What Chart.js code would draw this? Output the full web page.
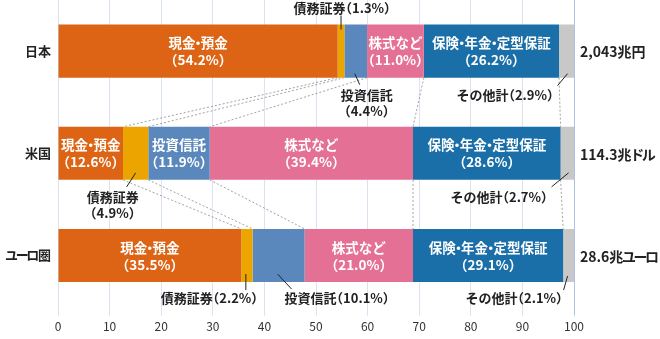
<!DOCTYPE html>
<html>
<head>
<meta charset="utf-8">
<script src="https://cdn.jsdelivr.net/npm/chart.js@4"></script>
<style>
  html, body { margin: 0; padding: 0; background: #fff; }
  #wrap { width: 660px; height: 339px; position: relative; }
</style>
</head>
<body>
<div id="wrap"><canvas id="c"></canvas></div>
<script>
// 家計金融資産の構成 — 日本・米国・ユーロ圏 (100% stacked)
const countries = ["日本", "米国", "ユーロ圏"];
const totals = ["2,043兆円", "114.3兆ドル", "28.6兆ユーロ"];

const segNames = ["現金・預金", "債務証券", "投資信託", "株式など", "保険・年金・定型保証", "その他計"];
const cash      = [54.2, 12.6, 35.5];
const debt      = [1.3, 4.9, 2.2];
const funds     = [4.4, 11.9, 10.1];
const equity    = [11.0, 39.4, 21.0];
const insurance = [26.2, 28.6, 29.1];
const other     = [2.9, 2.7, 2.1];

const xTicks = [0, 10, 20, 30, 40, 50, 60, 70, 80, 90, 100];

const colors = ["#dc6414", "#eca400", "#5a88bc", "#e57096", "#1b6fa8", "#c8c8c8"];
const series = [cash, debt, funds, equity, insurance, other];

const FONT = "'Noto Sans CJK JP', 'Noto Sans', sans-serif";

// segments labelled inside the bar (white text) — [dataset, row]
const inside = [[0, 0], [3, 0], [4, 0], [0, 1], [2, 1], [3, 1], [4, 1], [0, 2], [3, 2], [4, 2]];

// labels outside the bar with a short leader line.
// tx/ty: text offset from segment centre / bar edge; l: leader [x1,y1,x2,y2] offsets
const notes = [
  { ds: 1, row: 0, lines: ["債務証券（1.3%）"], edge: "top", tx: 1, ty: -16, align: "center", l: [0, -9, 0, 5] },
  { ds: 2, row: 0, lines: ["投資信託", "（4.4%）"], edge: "bottom", tx: 11, ty: 17, align: "center", l: [-1, -4, 4, 7] },
  { ds: 5, row: 0, lines: ["その他計（2.9%）"], edge: "bottom", tx: -13, ty: 17, align: "right", l: [1, -4, -9, 8] },
  { ds: 1, row: 1, lines: ["債務証券", "（4.9%）"], edge: "bottom", tx: -23, ty: 17, align: "center", l: [0, -7, -9, 7] },
  { ds: 5, row: 1, lines: ["その他計（2.7%）"], edge: "bottom", tx: -20, ty: 17, align: "right", l: [1, -7, -16, 7] },
  { ds: 1, row: 2, lines: ["債務証券（2.2%）"], edge: "bottom", tx: 11, ty: 16, align: "right", l: [-1, -8, -1, 8] },
  { ds: 2, row: 2, lines: ["投資信託（10.1%）"], edge: "bottom", tx: 6, ty: 16, align: "left", l: [-1, -8, 13, 7] },
  { ds: 5, row: 2, lines: ["その他計（2.1%）"], edge: "bottom", tx: -6, ty: 16, align: "right", l: [-1, -6, -5, 8] },
];

function fmtPct(v) { return "（" + v.toFixed(1) + "%）"; }

// proportional (palt-like) spacing for a few full-width glyphs: [draw offset, advance] in em
const PALT = {
  "（": [-0.5, 0.5], "）": [0, 0.5], "・": [-0.3, 0.4],
  "ユ": [-0.09, 0.82], "ー": [-0.09, 0.82], "ロ": [-0.1, 0.8], "ド": [-0.09, 0.82], "ル": [-0.09, 0.82],
};

function paltText(ctx, str, x, y, align, size) {
  const parts = [];
  let buf = "";
  for (const ch of str) {
    if (PALT[ch]) {
      if (buf) parts.push({ t: buf });
      buf = "";
      parts.push({ t: ch, p: PALT[ch] });
    } else buf += ch;
  }
  if (buf) parts.push({ t: buf });
  parts.forEach((p) => { p.w = p.p ? p.p[1] * size : ctx.measureText(p.t).width; });
  const w = parts.reduce((a, p) => a + p.w, 0);
  let px = align === "center" ? x - w / 2 : align === "right" ? x - w : x;
  ctx.textAlign = "left";
  parts.forEach((p) => {
    ctx.fillText(p.t, px + (p.p ? p.p[0] * size : 0), y);
    px += p.w;
  });
}

const overlay = {
  id: "overlay",
  beforeDatasetsDraw(chart) {
    // dotted connectors between matching segment boundaries of adjacent bars
    const ctx = chart.ctx;
    const xs = chart.scales.x;
    ctx.save();
    ctx.strokeStyle = "#8a8a8a";
    ctx.lineWidth = 0.8;
    ctx.setLineDash([2, 2]);
    for (let r = 0; r < countries.length - 1; r++) {
      const a = chart.getDatasetMeta(0).data[r];
      const b = chart.getDatasetMeta(0).data[r + 1];
      const yA = a.y + a.height / 2;
      const yB = b.y - b.height / 2;
      let cA = 0, cB = 0;
      for (let s = 0; s < series.length - 1; s++) {
        cA += series[s][r];
        cB += series[s][r + 1];
        ctx.beginPath();
        ctx.moveTo(xs.getPixelForValue(cA), yA);
        ctx.lineTo(xs.getPixelForValue(cB), yB);
        ctx.stroke();
      }
    }
    ctx.restore();
  },
  afterDatasetsDraw(chart) {
    const ctx = chart.ctx;
    const xs = chart.scales.x;
    ctx.save();
    ctx.textBaseline = "middle";

    // inside labels
    ctx.fillStyle = "#fff";
    ctx.font = `bold 13.5px ${FONT}`;
    inside.forEach(([ds, row]) => {
      const el = chart.getDatasetMeta(ds).data[row];
      const cx = (el.x + el.base) / 2;
      paltText(ctx, segNames[ds], cx, el.y - 8, "center", 13.5);
      paltText(ctx, fmtPct(series[ds][row]), cx, el.y + 9, "center", 13.5);
    });

    // outside notes
    ctx.fillStyle = "#222";
    ctx.strokeStyle = "#222";
    ctx.lineWidth = 1;
    ctx.font = `bold 13px ${FONT}`;
    notes.forEach((n) => {
      const el = chart.getDatasetMeta(n.ds).data[n.row];
      const cx = (el.x + el.base) / 2;
      const ey = n.edge === "top" ? el.y - el.height / 2 : el.y + el.height / 2;
      ctx.beginPath();
      ctx.moveTo(cx + n.l[0], ey + n.l[1]);
      ctx.lineTo(cx + n.l[2], ey + n.l[3]);
      ctx.stroke();
      n.lines.forEach((t, i) => paltText(ctx, t, cx + n.tx, ey + n.ty + i * 16, n.align, 13));
    });

    // category names on the left, totals on the right
    countries.forEach((name, r) => {
      const el = chart.getDatasetMeta(0).data[r];
      ctx.font = `bold 13px ${FONT}`;
      paltText(ctx, name, xs.left - 7, el.y, "right", 13);
      ctx.font = `bold 14px ${FONT}`;
      paltText(ctx, totals[r], xs.right + 6, el.y + 1, "left", 14);
    });
    ctx.restore();
  },
};

new Chart(document.getElementById("c"), {
  type: "bar",
  data: {
    labels: countries,
    datasets: series.map((d, i) => ({
      label: segNames[i],
      data: d,
      backgroundColor: colors[i],
      borderWidth: 0,
      barPercentage: 0.52,
      categoryPercentage: 1,
    })),
  },
  options: {
    indexAxis: "y",
    responsive: true,
    maintainAspectRatio: false,
    animation: false,
    layout: { padding: { top: 0, right: 86, bottom: 1, left: 0 } },
    plugins: { legend: { display: false }, tooltip: { enabled: false } },
    scales: {
      x: {
        stacked: true,
        min: 0,
        max: 100,
        afterBuildTicks: (s) => { s.ticks = xTicks.map((v) => ({ value: v })); },
        ticks: { color: "#333", font: { family: FONT, size: 12 }, padding: 4 },
        grid: {
          color: (c) => (c.tick && c.tick.value === 100 ? "#aec3e2" : "#dbe3f0"),
          lineWidth: 1,
          tickLength: 9,
        },
        border: { display: false },
      },
      y: {
        stacked: true,
        afterFit: (s) => { s.width = 58; s.paddingTop = 0; s.paddingBottom = 0; },
        ticks: { display: false },
        grid: { display: false, drawTicks: false },
        border: { display: false },
      },
    },
  },
  plugins: [overlay],
});
</script>
</body>
</html>
